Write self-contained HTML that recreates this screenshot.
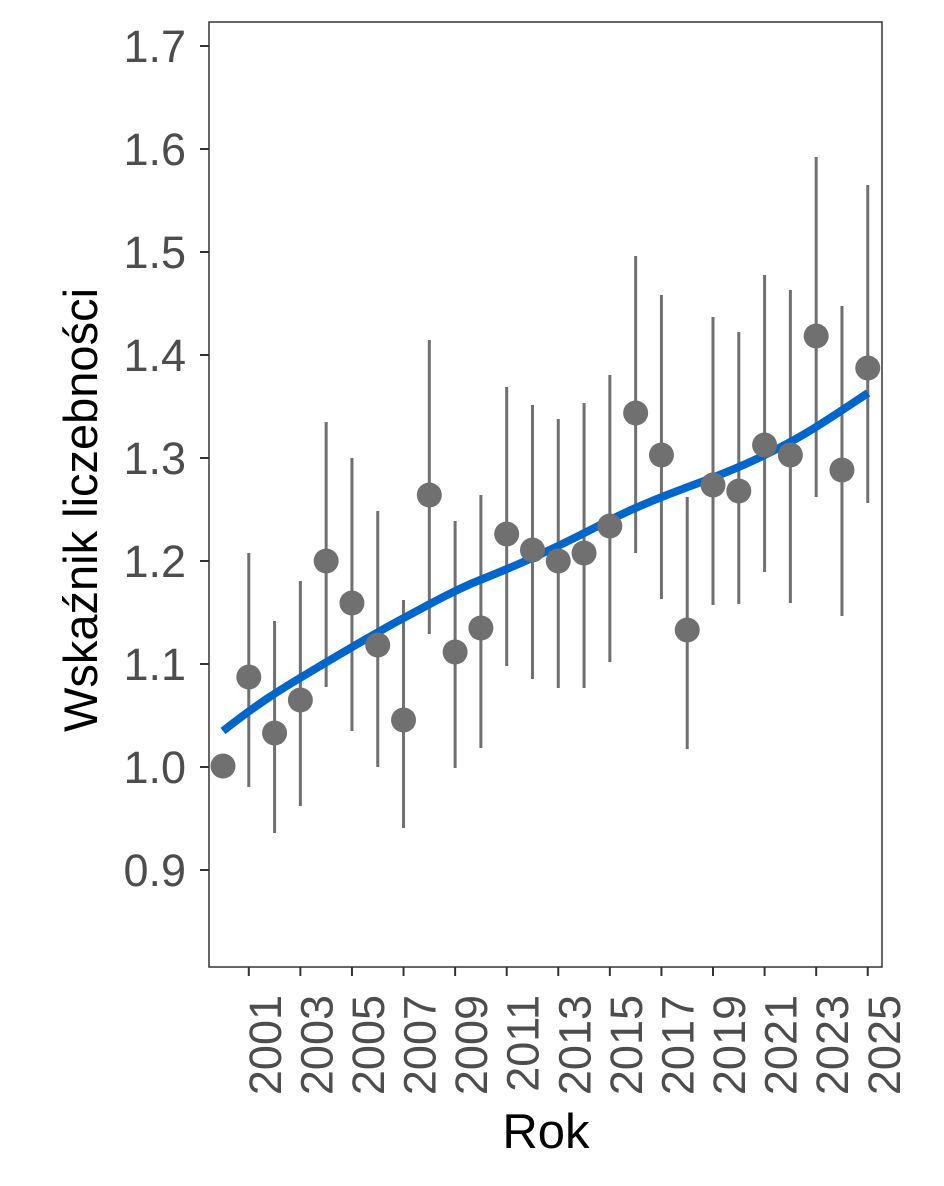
<!DOCTYPE html>
<html><head><meta charset="utf-8"><style>body{margin:0;background:#fff}</style></head>
<body>
<svg width="944" height="1181" xmlns="http://www.w3.org/2000/svg" font-family="Liberation Sans, sans-serif">
<rect width="944" height="1181" fill="#fff"/>
<rect x="209" y="22" width="673" height="945" fill="none" stroke="#333" stroke-width="1.5"/>
<g stroke="#333" stroke-width="2">
<line x1="200" y1="46" x2="209" y2="46"/><line x1="200" y1="149" x2="209" y2="149"/><line x1="200" y1="252" x2="209" y2="252"/><line x1="200" y1="355" x2="209" y2="355"/><line x1="200" y1="458" x2="209" y2="458"/><line x1="200" y1="561" x2="209" y2="561"/><line x1="200" y1="664" x2="209" y2="664"/><line x1="200" y1="767" x2="209" y2="767"/><line x1="200" y1="870" x2="209" y2="870"/>
</g>
<g font-size="45" fill="#4d4d4d" text-anchor="end">
<text x="186" y="62">1.7</text><text x="186" y="165">1.6</text><text x="186" y="268">1.5</text><text x="186" y="371">1.4</text><text x="186" y="474">1.3</text><text x="186" y="577">1.2</text><text x="186" y="680">1.1</text><text x="186" y="783">1.0</text><text x="186" y="886">0.9</text>
</g>
<g id="xt" stroke="#333" stroke-width="2"></g>
<g id="xl" font-size="45" fill="#4d4d4d" text-anchor="end"></g>
<g id="bars" stroke="#707070" stroke-width="3"></g>
<path d="M223,731 C260,702 280,690 300,678 S370,636 400,620 S455,590 480,580 S540,556 600,525 S700,485 750,462 S820,425 868,393" fill="none" stroke="#0066cc" stroke-width="8"/>
<g id="pts" fill="#707070"></g>
<text x="546" y="1148" font-size="49" text-anchor="middle" fill="#000">Rok</text>
<text transform="translate(97,510) rotate(-90)" font-size="47" text-anchor="middle" fill="#000">Wskaźnik liczebności</text>
<script>
var d=[[2000,766,0,0],[2001,677,787,553],[2002,733,833,621],[2003,700,806,581],[2004,561,687,422],[2005,603,731,458],[2006,645,767,511],[2007,720,828,600],[2008,495,634,340],[2009,652,768,521],[2010,628,748,495],[2011,534,666,387],[2012,550,679,405],[2013,561,688,419],[2014,553,688,403],[2015,526,662,375],[2016,413,553,256],[2017,455,599,295],[2018,630,749,497],[2019,485,605,317],[2020,491,604,332],[2021,445,572,275],[2022,455,603,290],[2023,336,497,157],[2024,470,616,306],[2025,368,503,185]];
var ns="http://www.w3.org/2000/svg";function X(y){return 223+(y-2000)*25.79;}
function el(p,t,a){var e=document.createElementNS(ns,t);for(var k in a)e.setAttribute(k,a[k]);document.getElementById(p).appendChild(e);return e;}
d.forEach(function(r){var x=X(r[0]);if(r[2])el('bars','line',{x1:x,x2:x,y1:r[2],y2:r[3]});el('pts','circle',{cx:x,cy:r[1],r:12.5});});
for(var y=2001;y<=2025;y+=2){var x=X(y);el('xt','line',{x1:x,x2:x,y1:967,y2:976});var t=el('xl','text',{transform:'translate('+(x+32)+',995) rotate(-90)'});t.textContent=y;}
</script>
</svg>
</body></html>
